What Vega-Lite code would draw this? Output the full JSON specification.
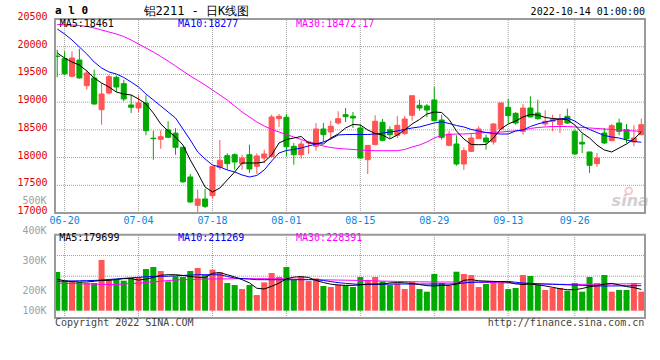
{
"$schema": "https://vega.github.io/schema/vega-lite/v6.json",
"width": 600, "height": 299,
"autosize": {"type": "none"},
"padding": {"left": 50, "top": 19, "right": 10, "bottom": 42},
"background": "#ffffff",
"config": {"view": {"stroke": null}, "axis": {"labelFont": "DejaVu Sans Mono", "labelFontSize": 10, "ticks": false, "domain": false, "grid": false}, "text": {"font": "DejaVu Sans Mono", "fontSize": 10}},
"datasets": {
"t": [{"i":1,"d":"06-20"},{"i":11,"d":"07-04"},{"i":21,"d":"07-18"},{"i":31,"d":"08-01"},{"i":41,"d":"08-15"},{"i":51,"d":"08-29"},{"i":61,"d":"09-13"},{"i":70,"d":"09-26"}],
"k": [
{"d":"06-17","i":0,"o":19830,"h":19946,"l":19448,"c":19825,"v":326800,"m5":19887,"m10":20320,"m30":20401,"vm5":265600,"vm10":248500,"vm30":233200},
{"d":"06-20","i":1,"o":19784,"h":19917,"l":19484,"c":19513,"v":253500,"m5":19796,"m10":20229,"m30":20395,"vm5":253000,"vm10":249900,"vm30":231600},
{"d":"06-21","i":2,"o":19466,"h":19917,"l":19448,"c":19796,"v":242300,"m5":19724,"m10":20121,"m30":20392,"vm5":245600,"vm10":251300,"vm30":229600},
{"d":"06-22","i":3,"o":19760,"h":19964,"l":19423,"c":19436,"v":242300,"m5":19670,"m10":19995,"m30":20383,"vm5":242300,"vm10":252700,"vm30":227900},
{"d":"06-23","i":4,"o":19297,"h":19585,"l":19225,"c":19526,"v":233800,"m5":19562,"m10":19869,"m30":20365,"vm5":242300,"vm10":254100,"vm30":226200},
{"d":"06-24","i":5,"o":19436,"h":19585,"l":18954,"c":18967,"v":233800,"m5":19436,"m10":19724,"m30":20338,"vm5":249000,"vm10":255500,"vm30":224500},
{"d":"06-27","i":6,"o":18864,"h":19345,"l":18593,"c":19147,"v":428200,"m5":19345,"m10":19616,"m30":20302,"vm5":256300,"vm10":258900,"vm30":222500},
{"d":"06-28","i":7,"o":19165,"h":19495,"l":19134,"c":19459,"v":262000,"m5":19273,"m10":19544,"m30":20265,"vm5":256300,"vm10":264000,"vm30":220900},
{"d":"06-29","i":8,"o":19448,"h":19484,"l":19183,"c":19273,"v":262000,"m5":19183,"m10":19508,"m30":20229,"vm5":263400,"vm10":268200,"vm30":221400},
{"d":"06-30","i":9,"o":19333,"h":19405,"l":19015,"c":19057,"v":253500,"m5":19147,"m10":19445,"m30":20184,"vm5":271000,"vm10":273000,"vm30":225400},
{"d":"07-01","i":10,"o":18949,"h":19134,"l":18804,"c":18907,"v":276100,"m5":19129,"m10":19363,"m30":20121,"vm5":271600,"vm10":277800,"vm30":229300},
{"d":"07-04","i":11,"o":18895,"h":19123,"l":18817,"c":18985,"v":284500,"m5":19057,"m10":19273,"m30":20049,"vm5":258600,"vm10":282300,"vm30":233200},
{"d":"07-05","i":12,"o":18985,"h":19123,"l":18402,"c":18485,"v":352100,"m5":18967,"m10":19147,"m30":19977,"vm5":266800,"vm10":286800,"vm30":238300},
{"d":"07-06","i":13,"o":18350,"h":18485,"l":17962,"c":18340,"v":369000,"m5":18804,"m10":19039,"m30":19905,"vm5":281100,"vm10":290200,"vm30":243700},
{"d":"07-07","i":14,"o":18330,"h":18492,"l":18160,"c":18377,"v":335200,"m5":18606,"m10":18931,"m30":19824,"vm5":299500,"vm10":290200,"vm30":249300},
{"d":"07-08","i":15,"o":18498,"h":18655,"l":18353,"c":18366,"v":247900,"m5":18480,"m10":18822,"m30":19742,"vm5":304200,"vm10":291000,"vm30":254900},
{"d":"07-11","i":16,"o":18440,"h":18530,"l":18050,"c":18185,"v":290200,"m5":18371,"m10":18714,"m30":19652,"vm5":304200,"vm10":294400,"vm30":259400},
{"d":"07-12","i":17,"o":18185,"h":18190,"l":17545,"c":17562,"v":284500,"m5":18227,"m10":18516,"m30":19562,"vm5":297800,"vm10":297800,"vm30":261700},
{"d":"07-13","i":18,"o":17650,"h":17704,"l":17181,"c":17199,"v":335200,"m5":17956,"m10":18317,"m30":19472,"vm5":289000,"vm10":301100,"vm30":263700},
{"d":"07-14","i":19,"o":17139,"h":17421,"l":17010,"c":17253,"v":360600,"m5":17722,"m10":18101,"m30":19391,"vm5":282300,"vm10":304200,"vm30":265600},
{"d":"07-15","i":20,"o":17253,"h":17439,"l":17090,"c":17121,"v":301400,"m5":17469,"m10":17974,"m30":19309,"vm5":279700,"vm10":304200,"vm30":267600},
{"d":"07-18","i":21,"o":17312,"h":17836,"l":17258,"c":17836,"v":346500,"m5":17379,"m10":17866,"m30":19219,"vm5":316300,"vm10":304200,"vm30":268200},
{"d":"07-19","i":22,"o":17825,"h":18317,"l":17776,"c":17951,"v":324000,"m5":17451,"m10":17830,"m30":19129,"vm5":322000,"vm10":303400,"vm30":268700},
{"d":"07-20","i":23,"o":18034,"h":18077,"l":17781,"c":17890,"v":233800,"m5":17596,"m10":17776,"m30":19039,"vm5":303700,"vm10":289900,"vm30":269300},
{"d":"07-21","i":24,"o":18052,"h":18077,"l":17781,"c":17920,"v":216900,"m5":17740,"m10":17740,"m30":18931,"vm5":285400,"vm10":276100,"vm30":269900},
{"d":"07-22","i":25,"o":17890,"h":18052,"l":17781,"c":17992,"v":183100,"m5":17902,"m10":17686,"m30":18822,"vm5":262500,"vm10":271600,"vm30":270400},
{"d":"07-25","i":26,"o":18052,"h":18232,"l":17722,"c":17794,"v":216900,"m5":17902,"m10":17650,"m30":18732,"vm5":235200,"vm10":267100,"vm30":270400},
{"d":"07-26","i":27,"o":17843,"h":18077,"l":17704,"c":18029,"v":132400,"m5":17902,"m10":17677,"m30":18642,"vm5":189600,"vm10":262300,"vm30":270400},
{"d":"07-27","i":28,"o":17992,"h":18142,"l":17902,"c":18065,"v":239400,"m5":17920,"m10":17776,"m30":18570,"vm5":183400,"vm10":262000,"vm30":270400},
{"d":"07-28","i":29,"o":18022,"h":18774,"l":18005,"c":18732,"v":318300,"m5":18047,"m10":17938,"m30":18507,"vm5":205900,"vm10":262000,"vm30":270400},
{"d":"07-29","i":30,"o":18702,"h":18786,"l":18552,"c":18745,"v":284500,"m5":18263,"m10":18083,"m30":18461,"vm5":233000,"vm10":262000,"vm30":270400},
{"d":"08-01","i":31,"o":18727,"h":18786,"l":18023,"c":18196,"v":369000,"m5":18326,"m10":18128,"m30":18416,"vm5":269600,"vm10":262000,"vm30":269000},
{"d":"08-02","i":32,"o":18203,"h":18263,"l":17872,"c":18052,"v":259200,"m5":18353,"m10":18146,"m30":18371,"vm5":283700,"vm10":262000,"vm30":267300},
{"d":"08-03","i":33,"o":18052,"h":18305,"l":17980,"c":18245,"v":290200,"m5":18380,"m10":18173,"m30":18326,"vm5":287600,"vm10":262000,"vm30":265600},
{"d":"08-04","i":34,"o":18265,"h":18300,"l":18065,"c":18281,"v":250700,"m5":18263,"m10":18209,"m30":18281,"vm5":280900,"vm10":262000,"vm30":264000},
{"d":"08-05","i":35,"o":18203,"h":18624,"l":18124,"c":18516,"v":273200,"m5":18254,"m10":18245,"m30":18245,"vm5":255500,"vm10":262000,"vm30":262500},
{"d":"08-08","i":36,"o":18516,"h":18624,"l":18281,"c":18413,"v":208500,"m5":18245,"m10":18281,"m30":18209,"vm5":238000,"vm10":255500,"vm30":261100},
{"d":"08-09","i":37,"o":18462,"h":18666,"l":18323,"c":18564,"v":200000,"m5":18353,"m10":18335,"m30":18182,"vm5":224200,"vm10":246200,"vm30":260000},
{"d":"08-10","i":38,"o":18624,"h":18835,"l":18593,"c":18702,"v":219700,"m5":18425,"m10":18407,"m30":18164,"vm5":217200,"vm10":237200,"vm30":258900},
{"d":"08-11","i":39,"o":18774,"h":18894,"l":18642,"c":18738,"v":214100,"m5":18534,"m10":18416,"m30":18155,"vm5":214100,"vm10":231000,"vm30":257800},
{"d":"08-12","i":40,"o":18745,"h":18822,"l":18534,"c":18714,"v":200000,"m5":18597,"m10":18416,"m30":18146,"vm5":214100,"vm10":226200,"vm30":256900},
{"d":"08-15","i":41,"o":18534,"h":18594,"l":17980,"c":17992,"v":284500,"m5":18588,"m10":18416,"m30":18137,"vm5":218300,"vm10":221700,"vm30":255500},
{"d":"08-16","i":42,"o":17962,"h":18227,"l":17704,"c":18220,"v":259200,"m5":18498,"m10":18416,"m30":18128,"vm5":225400,"vm10":220600,"vm30":253800},
{"d":"08-17","i":43,"o":18234,"h":18763,"l":18221,"c":18655,"v":284500,"m5":18434,"m10":18425,"m30":18124,"vm5":225400,"vm10":222000,"vm30":252100},
{"d":"08-18","i":44,"o":18637,"h":18696,"l":18294,"c":18312,"v":247900,"m5":18407,"m10":18443,"m30":18124,"vm5":225400,"vm10":223400,"vm30":250400},
{"d":"08-19","i":45,"o":18503,"h":18564,"l":18353,"c":18413,"v":216900,"m5":18335,"m10":18461,"m30":18124,"vm5":234700,"vm10":224500,"vm30":248700},
{"d":"08-22","i":46,"o":18402,"h":18750,"l":18353,"c":18582,"v":228200,"m5":18407,"m10":18480,"m30":18124,"vm5":238000,"vm10":225400,"vm30":247300},
{"d":"08-23","i":47,"o":18431,"h":18750,"l":18413,"c":18696,"v":183100,"m5":18498,"m10":18507,"m30":18146,"vm5":235500,"vm10":225400,"vm30":246200},
{"d":"08-24","i":48,"o":18763,"h":19116,"l":18666,"c":19116,"v":242300,"m5":18606,"m10":18534,"m30":18191,"vm5":230100,"vm10":225400,"vm30":245100},
{"d":"08-25","i":49,"o":18943,"h":19044,"l":18846,"c":18894,"v":183100,"m5":18687,"m10":18552,"m30":18227,"vm5":220900,"vm10":225400,"vm30":244000},
{"d":"08-26","i":50,"o":18931,"h":18967,"l":18727,"c":18858,"v":160600,"m5":18786,"m10":18588,"m30":18281,"vm5":211800,"vm10":225400,"vm30":243100},
{"d":"08-29","i":51,"o":19039,"h":19273,"l":18655,"c":18666,"v":309900,"m5":18822,"m10":18624,"m30":18353,"vm5":208500,"vm10":225400,"vm30":242300},
{"d":"08-30","i":52,"o":18678,"h":18774,"l":18323,"c":18366,"v":233800,"m5":18813,"m10":18647,"m30":18398,"vm5":214100,"vm10":225400,"vm30":242300},
{"d":"08-31","i":53,"o":18221,"h":18485,"l":18203,"c":18425,"v":211300,"m5":18687,"m10":18615,"m30":18416,"vm5":214100,"vm10":225400,"vm30":242300},
{"d":"09-01","i":54,"o":18245,"h":18402,"l":17854,"c":17884,"v":329600,"m5":18480,"m10":18579,"m30":18425,"vm5":225900,"vm10":227100,"vm30":242300},
{"d":"09-02","i":55,"o":17884,"h":18185,"l":17776,"c":18124,"v":309900,"m5":18335,"m10":18552,"m30":18425,"vm5":256900,"vm10":234100,"vm30":242300},
{"d":"09-05","i":56,"o":18113,"h":18443,"l":18101,"c":18353,"v":301400,"m5":18236,"m10":18507,"m30":18434,"vm5":262500,"vm10":239700,"vm30":242000},
{"d":"09-06","i":57,"o":18341,"h":18564,"l":18341,"c":18516,"v":200000,"m5":18232,"m10":18480,"m30":18443,"vm5":253000,"vm10":241400,"vm30":240300},
{"d":"09-07","i":58,"o":18353,"h":18413,"l":18142,"c":18281,"v":225400,"m5":18236,"m10":18452,"m30":18452,"vm5":250100,"vm10":243100,"vm30":238600},
{"d":"09-08","i":59,"o":18281,"h":18624,"l":18233,"c":18606,"v":242300,"m5":18353,"m10":18434,"m30":18455,"vm5":247600,"vm10":244800,"vm30":236900},
{"d":"09-09","i":60,"o":18516,"h":18985,"l":18503,"c":18985,"v":239400,"m5":18516,"m10":18425,"m30":18461,"vm5":244800,"vm10":246500,"vm30":235200},
{"d":"09-13","i":61,"o":18907,"h":19057,"l":18624,"c":18756,"v":183100,"m5":18606,"m10":18425,"m30":18471,"vm5":241100,"vm10":247300,"vm30":233800},
{"d":"09-14","i":62,"o":18799,"h":18817,"l":18593,"c":18624,"v":191600,"m5":18660,"m10":18480,"m30":18480,"vm5":226500,"vm10":240600,"vm30":232100},
{"d":"09-15","i":63,"o":18474,"h":18967,"l":18413,"c":18894,"v":301400,"m5":18732,"m10":18498,"m30":18498,"vm5":221400,"vm10":233800,"vm30":230400},
{"d":"09-16","i":64,"o":18894,"h":19105,"l":18727,"c":18732,"v":293000,"m5":18777,"m10":18561,"m30":18525,"vm5":225400,"vm10":231000,"vm30":228700},
{"d":"09-19","i":65,"o":18804,"h":19044,"l":18684,"c":18702,"v":219700,"m5":18768,"m10":18606,"m30":18543,"vm5":218000,"vm10":228200,"vm30":227100},
{"d":"09-20","i":66,"o":18606,"h":18853,"l":18564,"c":18655,"v":174700,"m5":18723,"m10":18642,"m30":18552,"vm5":209000,"vm10":225400,"vm30":225400},
{"d":"09-21","i":67,"o":18655,"h":18774,"l":18474,"c":18684,"v":191600,"m5":18705,"m10":18669,"m30":18561,"vm5":197800,"vm10":223400,"vm30":224200},
{"d":"09-22","i":68,"o":18593,"h":18786,"l":18443,"c":18684,"v":191600,"m5":18696,"m10":18696,"m30":18561,"vm5":185400,"vm10":221100,"vm30":223100},
{"d":"09-23","i":69,"o":18745,"h":18882,"l":18606,"c":18624,"v":169000,"m5":18683,"m10":18714,"m30":18561,"vm5":177500,"vm10":218900,"vm30":222000},
{"d":"09-26","i":70,"o":18474,"h":18503,"l":18052,"c":18065,"v":233800,"m5":18588,"m10":18660,"m30":18552,"vm5":177500,"vm10":216600,"vm30":222500},
{"d":"09-27","i":71,"o":18276,"h":18425,"l":18083,"c":18245,"v":160600,"m5":18443,"m10":18570,"m30":18543,"vm5":187300,"vm10":214400,"vm30":223000},
{"d":"09-28","i":72,"o":18101,"h":18101,"l":17722,"c":17861,"v":284500,"m5":18353,"m10":18507,"m30":18534,"vm5":203400,"vm10":212400,"vm30":223500},
{"d":"09-29","i":73,"o":17890,"h":18083,"l":17830,"c":17992,"v":233800,"m5":18227,"m10":18452,"m30":18525,"vm5":211600,"vm10":209300,"vm30":224000},
{"d":"09-30","i":74,"o":18443,"h":18534,"l":18245,"c":18263,"v":301400,"m5":18137,"m10":18398,"m30":18516,"vm5":224500,"vm10":208500,"vm30":224500},
{"d":"10-10","i":75,"o":18305,"h":18606,"l":18294,"c":18575,"v":160600,"m5":18101,"m10":18371,"m30":18507,"vm5":231000,"vm10":209000,"vm30":225000},
{"d":"10-11","i":76,"o":18624,"h":18702,"l":18402,"c":18474,"v":174700,"m5":18173,"m10":18353,"m30":18498,"vm5":218000,"vm10":209600,"vm30":226000},
{"d":"10-12","i":77,"o":18503,"h":18606,"l":18263,"c":18341,"v":174700,"m5":18245,"m10":18317,"m30":18489,"vm5":203700,"vm10":210200,"vm30":227000},
{"d":"10-13","i":78,"o":18281,"h":18582,"l":18203,"c":18353,"v":233800,"m5":18335,"m10":18290,"m30":18480,"vm5":195200,"vm10":210700,"vm30":227500},
{"d":"10-14","i":79,"o":18413,"h":18702,"l":18402,"c":18593,"v":160600,"m5":18461,"m10":18277,"m30":18472,"vm5":179699,"vm10":211269,"vm30":228391}
]},
"layer": [
{"layer": [
 {"data": {"values": [{"p":17500},{"p":18000},{"p":18500},{"p":19000},{"p":19500},{"p":20000}]}, "mark": {"type": "rule", "color": "#a0a0a0", "strokeDash": [1, 1], "strokeWidth": 1}, "encoding": {"x": {"datum": -0.3, "type": "quantitative", "axis": null}, "x2": {"datum": 79.5}, "y": {"field": "p", "type": "quantitative"}}},
 {"data": {"name": "t"}, "mark": {"type": "rule", "color": "#a0a0a0", "strokeDash": [1, 1], "strokeWidth": 1}, "encoding": {"x": {"field": "i", "type": "quantitative", "axis": null}, "y": {"datum": 17000, "type": "quantitative"}, "y2": {"datum": 20500}}},
 {"data": {"values": [{}]}, "mark": {"type": "text", "text": "sina", "font": "DejaVu Sans", "fontSize": 16, "fontWeight": "bold", "fontStyle": "italic", "align": "center", "baseline": "middle", "color": "#d4d0d0"}, "encoding": {"x": {"datum": 77.5, "type": "quantitative", "axis": null}, "y": {"datum": 17217, "type": "quantitative"}}},
 {"data": {"values": [{}]}, "mark": {"type": "point", "shape": "circle", "filled": false, "size": 45, "strokeWidth": 2, "color": "#f0b8b8"}, "encoding": {"x": {"datum": 77.3, "type": "quantitative", "axis": null}, "y": {"datum": 17400, "type": "quantitative"}}},
 {"data": {"name": "k"}, "mark": {"type": "rule", "strokeWidth": 1}, "encoding": {
   "x": {"field": "i", "type": "quantitative", "scale": {"domain": [-0.3, 79.5], "nice": false, "zero": false}, "axis": null},
   "y": {"field": "l", "type": "quantitative", "scale": {"domain": [15105.7, 20500], "nice": false, "zero": false},
     "axis": {"orient": "left", "title": null, "format": "d", "values": [17000, 17500, 18000, 18500, 19000, 19500, 20000, 20500], "labelColor": "#e00000", "labelPadding": 3, "labelOffset": -2.5}},
   "y2": {"field": "h"},
   "color": {"condition": {"test": "datum.c >= datum.o", "value": "#ff5555"}, "value": "#00aa00"}}},
 {"data": {"name": "k"}, "mark": {"type": "bar", "width": 5, "strokeWidth": 1}, "encoding": {
   "x": {"field": "i", "type": "quantitative", "axis": null},
   "y": {"field": "o", "type": "quantitative"}, "y2": {"field": "c"},
   "fill": {"condition": {"test": "datum.c >= datum.o", "value": "#ff5555"}, "value": "#00aa00"},
   "stroke": {"condition": {"test": "datum.c >= datum.o", "value": "#ff5555"}, "value": "#00aa00"}}},
 {"data": {"name": "k"}, "mark": {"type": "line", "color": "#ff00ff", "strokeWidth": 1}, "encoding": {"x": {"field": "i", "type": "quantitative", "axis": null}, "y": {"field": "m30", "type": "quantitative"}}},
 {"data": {"name": "k"}, "mark": {"type": "line", "color": "#0000ff", "strokeWidth": 1}, "encoding": {"x": {"field": "i", "type": "quantitative", "axis": null}, "y": {"field": "m10", "type": "quantitative"}}},
 {"data": {"name": "k"}, "mark": {"type": "line", "color": "#000000", "strokeWidth": 1}, "encoding": {"x": {"field": "i", "type": "quantitative", "axis": null}, "y": {"field": "m5", "type": "quantitative"}}},
 {"data": {"values": [{}]}, "mark": {"type": "rect", "filled": false, "stroke": "#9a9a9a", "strokeWidth": 2}, "encoding": {"x": {"datum": -0.3, "type": "quantitative", "axis": null}, "x2": {"datum": 79.5}, "y": {"datum": 17000, "type": "quantitative"}, "y2": {"datum": 20500}}},
 {"data": {"name": "t"}, "mark": {"type": "text", "color": "#0a84e0", "align": "center", "baseline": "middle"}, "encoding": {"x": {"field": "i", "type": "quantitative", "axis": null}, "y": {"datum": 16861, "type": "quantitative"}, "text": {"field": "d"}}},
 {"data": {"values": [{}]}, "mark": {"type": "text", "text": "a l 0", "fontSize": 11, "fontWeight": "bold", "align": "left", "baseline": "middle", "color": "#000000"}, "encoding": {"x": {"datum": -0.3, "type": "quantitative", "axis": null}, "y": {"datum": 20639, "type": "quantitative"}}},
 {"data": {"values": [{}]}, "mark": {"type": "text", "text": "铝2211 - 日K线图", "fontSize": 12, "align": "left", "baseline": "middle", "color": "#000000"}, "encoding": {"x": {"datum": 11.67, "type": "quantitative", "axis": null}, "y": {"datum": 20650, "type": "quantitative"}}},
 {"data": {"values": [{}]}, "mark": {"type": "text", "text": "2022-10-14 01:00:00", "align": "right", "baseline": "middle", "color": "#000000"}, "encoding": {"x": {"datum": 79.5, "type": "quantitative", "axis": null}, "y": {"datum": 20626, "type": "quantitative"}}},
 {"data": {"values": [{}]}, "mark": {"type": "text", "text": "MA5:18461", "align": "left", "baseline": "middle", "color": "#000000"}, "encoding": {"x": {"datum": 0.33, "type": "quantitative", "axis": null}, "y": {"datum": 20415, "type": "quantitative"}}},
 {"data": {"values": [{}]}, "mark": {"type": "text", "text": "MA10:18277", "align": "left", "baseline": "middle", "color": "#0000ff"}, "encoding": {"x": {"datum": 16.35, "type": "quantitative", "axis": null}, "y": {"datum": 20415, "type": "quantitative"}}},
 {"data": {"values": [{}]}, "mark": {"type": "text", "text": "MA30:18472.17", "align": "left", "baseline": "middle", "color": "#ff00ff"}, "encoding": {"x": {"datum": 32.3, "type": "quantitative", "axis": null}, "y": {"datum": 20415, "type": "quantitative"}}}
]},
{"layer": [
 {"data": {"name": "t"}, "mark": {"type": "rule", "color": "#a0a0a0", "strokeDash": [1, 1], "strokeWidth": 1}, "encoding": {"x": {"field": "i", "type": "quantitative", "axis": null}, "y": {"datum": -61685, "type": "quantitative"}, "y2": {"datum": 642200}}},
 {"data": {"values": [{"g": 115800}, {"g": 291500}, {"g": 466000}]}, "mark": {"type": "rule", "color": "#a0a0a0", "strokeDash": [1, 1], "strokeWidth": 1}, "encoding": {"x": {"datum": -0.3, "type": "quantitative", "axis": null}, "x2": {"datum": 79.5}, "y": {"field": "g", "type": "quantitative"}}},
 {"data": {"name": "k"}, "mark": {"type": "bar", "width": 6}, "encoding": {
   "x": {"field": "i", "type": "quantitative", "axis": null},
   "y": {"field": "v", "type": "quantitative", "scale": {"domain": [-61685, 2464865], "nice": false, "zero": false},
     "axis": {"orient": "left", "title": null, "values": [0, 169000, 422500, 676000, 929500], "labelExpr": "datum.value < 50000 ? '100K' : datum.value < 300000 ? '200K' : datum.value < 550000 ? '300K' : datum.value < 800000 ? '400K' : '500K'", "labelColor": "#a0a0a0", "labelPadding": 4}},
   "y2": {"datum": 0},
   "fill": {"condition": {"test": "datum.c >= datum.o", "value": "#ff5555"}, "value": "#00aa00"}}},
 {"data": {"name": "k"}, "mark": {"type": "line", "color": "#ff00ff", "strokeWidth": 1}, "encoding": {"x": {"field": "i", "type": "quantitative", "axis": null}, "y": {"field": "vm30", "type": "quantitative"}}},
 {"data": {"name": "k"}, "mark": {"type": "line", "color": "#0000ff", "strokeWidth": 1}, "encoding": {"x": {"field": "i", "type": "quantitative", "axis": null}, "y": {"field": "vm10", "type": "quantitative"}}},
 {"data": {"name": "k"}, "mark": {"type": "line", "color": "#000000", "strokeWidth": 1}, "encoding": {"x": {"field": "i", "type": "quantitative", "axis": null}, "y": {"field": "vm5", "type": "quantitative"}}},
 {"data": {"values": [{}]}, "mark": {"type": "rect", "filled": false, "stroke": "#9a9a9a", "strokeWidth": 2}, "encoding": {"x": {"datum": -0.3, "type": "quantitative", "axis": null}, "x2": {"datum": 79.5}, "y": {"datum": -61685, "type": "quantitative"}, "y2": {"datum": 642200}}},
 {"data": {"values": [{}]}, "mark": {"type": "text", "text": "MA5:179699", "align": "left", "baseline": "middle", "color": "#000000"}, "encoding": {"x": {"datum": 0.27, "type": "quantitative", "axis": null}, "y": {"datum": 611800, "type": "quantitative"}}},
 {"data": {"values": [{}]}, "mark": {"type": "text", "text": "MA10:211269", "align": "left", "baseline": "middle", "color": "#0000ff"}, "encoding": {"x": {"datum": 16.35, "type": "quantitative", "axis": null}, "y": {"datum": 611800, "type": "quantitative"}}},
 {"data": {"values": [{}]}, "mark": {"type": "text", "text": "MA30:228391", "align": "left", "baseline": "middle", "color": "#ff00ff"}, "encoding": {"x": {"datum": 32.3, "type": "quantitative", "axis": null}, "y": {"datum": 611800, "type": "quantitative"}}},
 {"data": {"values": [{}]}, "mark": {"type": "text", "text": "Copyright 2022 SINA.COM", "align": "left", "baseline": "middle", "color": "#444444"}, "encoding": {"x": {"datum": -0.3, "type": "quantitative", "axis": null}, "y": {"datum": -106500, "type": "quantitative"}}},
 {"data": {"values": [{}]}, "mark": {"type": "text", "text": "http://finance.sina.com.cn", "align": "right", "baseline": "middle", "color": "#444444"}, "encoding": {"x": {"datum": 79.4, "type": "quantitative", "axis": null}, "y": {"datum": -106500, "type": "quantitative"}}}
]}
],
"resolve": {"scale": {"y": "independent"}, "axis": {"y": "independent"}}
}
